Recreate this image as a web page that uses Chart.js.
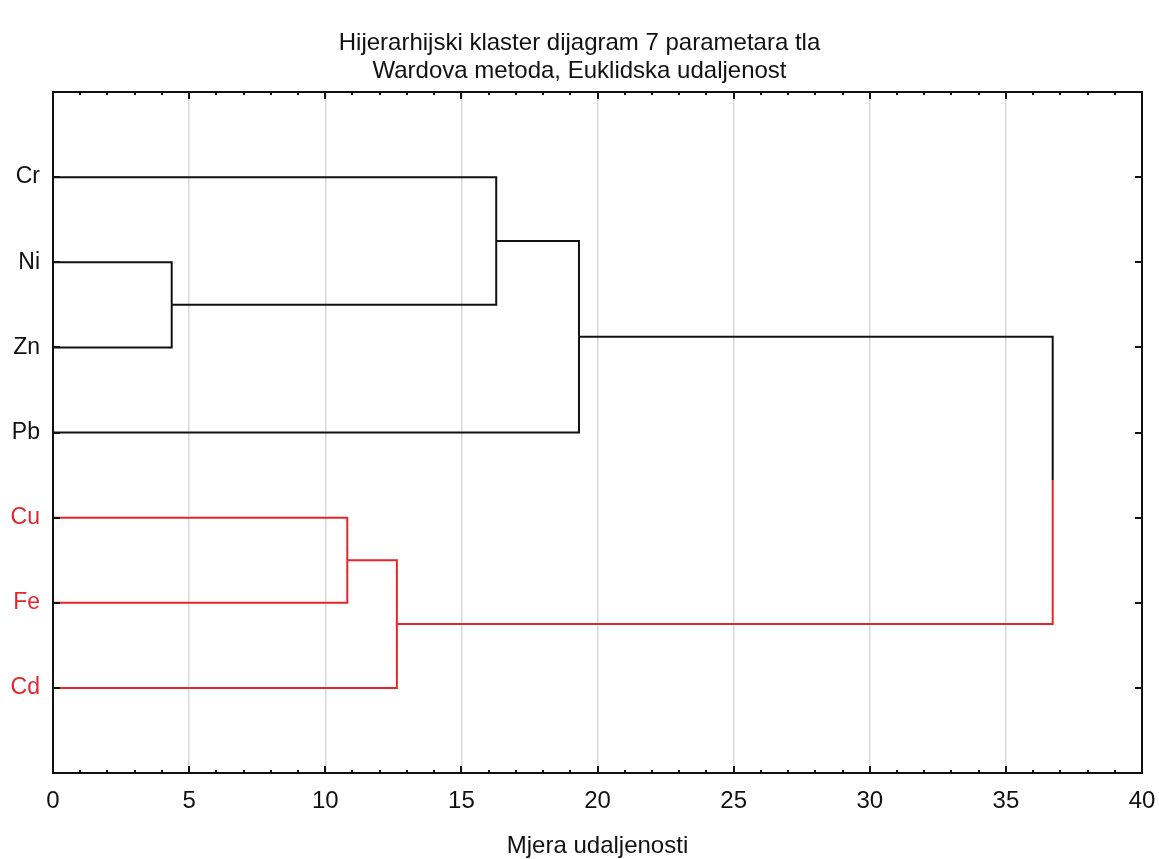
<!DOCTYPE html>
<html>
<head>
<meta charset="utf-8">
<title>Dendrogram</title>
<script src="https://cdn.jsdelivr.net/npm/chart.js@4"></script>
<style>
  html, body { margin: 0; padding: 0; background: #ffffff; }
  canvas { display: block; }
</style>
</head>
<body>
<canvas id="chart" width="1159" height="859"></canvas>
<script>
  'use strict';

  // leaves, top to bottom
  var leaves = ['Cr', 'Ni', 'Zn', 'Pb', 'Cu', 'Fe', 'Cd'];
  var leafColors = ['#000000', '#000000', '#000000', '#000000', '#e3262b', '#e3262b', '#e3262b'];

  // linkage: ids 0..6 are leaves, 7+ are the merged clusters in this order
  var mergeA = [1, 0, 8, 4, 10, 9];
  var mergeB = [2, 7, 3, 5, 6, 11];
  var mergeHeight = [4.36, 16.28, 19.32, 10.81, 12.63, 36.72];

  var xTicks = [0, 5, 10, 15, 20, 25, 30, 35, 40];

  var FONT = 'Arial, "Liberation Sans", sans-serif';
  var LINE = '#111111';

  // build the link segments from the linkage arrays
  function buildDatasets() {
    var pos = [], height = [], color = [];
    leaves.forEach(function (name, i) {
      pos.push(i + 1);
      height.push(0);
      color.push(leafColors[i]);
    });
    var sets = [];
    mergeHeight.forEach(function (h, k) {
      var a = mergeA[k], b = mergeB[k];
      var mid = (pos[a] + pos[b]) / 2;
      sets.push({
        data: [{ x: height[a], y: pos[a] }, { x: h, y: pos[a] }, { x: h, y: mid }],
        borderColor: color[a]
      });
      sets.push({
        data: [{ x: h, y: mid }, { x: h, y: pos[b] }, { x: height[b], y: pos[b] }],
        borderColor: color[b]
      });
      pos.push(mid);
      height.push(h);
      color.push(color[a] === color[b] ? color[a] : LINE);
    });
    return sets.map(function (s) {
      return {
        data: s.data,
        borderColor: s.borderColor === '#000000' ? LINE : s.borderColor,
        borderWidth: 2,
        showLine: true,
        pointRadius: 0,
        tension: 0,
        fill: false
      };
    });
  }

  // frame and inward tick marks like the original
  var framePlugin = {
    id: 'frame',
    afterDatasetsDraw: function (chart) {
      var ctx = chart.ctx, a = chart.chartArea;
      var xs = chart.scales.x, ys = chart.scales.y;
      ctx.save();
      ctx.strokeStyle = LINE;
      ctx.lineWidth = 2;
      ctx.beginPath();
      for (var v = 0; v <= 40; v++) {
        var px = Math.round(xs.getPixelForValue(v));
        var len = v % 5 === 0 ? 7 : 3;
        ctx.moveTo(px, a.bottom); ctx.lineTo(px, a.bottom - len);
        ctx.moveTo(px, a.top); ctx.lineTo(px, a.top + len);
      }
      leaves.forEach(function (n, i) {
        var py = Math.round(ys.getPixelForValue(i + 1));
        ctx.moveTo(a.right, py); ctx.lineTo(a.right - 7, py);
        ctx.moveTo(a.left, py); ctx.lineTo(a.left + 7, py);
      });
      ctx.stroke();
      ctx.strokeRect(a.left, a.top, a.right - a.left, a.bottom - a.top);
      ctx.restore();
    }
  };

  new Chart(document.getElementById('chart').getContext('2d'), {
    type: 'scatter',
    data: { datasets: buildDatasets() },
    options: {
      responsive: false,
      animation: false,
      devicePixelRatio: 1,
      layout: { padding: 0 },
      plugins: {
        legend: { display: false },
        tooltip: { enabled: false },
        title: {
          display: true,
          text: ['Hijerarhijski klaster dijagram 7 parametara tla', 'Wardova metoda, Euklidska udaljenost'],
          color: '#111111',
          font: { family: FONT, size: 24, weight: 'normal', lineHeight: '28px' },
          padding: { top: 29, bottom: 7 }
        }
      },
      scales: {
        x: {
          type: 'linear',
          min: 0,
          max: 40,
          afterBuildTicks: function (s) {
            s.ticks = xTicks.map(function (v) { return { value: v }; });
          },
          afterFit: function (s) {
            s.height = 86;
            s.paddingLeft = 0;
            s.paddingRight = 0;
          },
          ticks: {
            color: '#111111',
            font: { family: FONT, size: 24 },
            padding: 14,
            maxRotation: 0
          },
          grid: { color: '#d9d9d9', lineWidth: 1.5, drawTicks: false },
          border: { display: false },
          title: {
            display: true,
            text: 'Mjera udaljenosti',
            color: '#111111',
            font: { family: FONT, size: 24, lineHeight: '26px' },
            padding: { top: 0, bottom: 0 }
          }
        },
        y: {
          type: 'linear',
          min: 0,
          max: 8,
          reverse: true,
          afterBuildTicks: function (s) {
            s.ticks = leaves.map(function (n, i) { return { value: i + 1 }; });
          },
          afterFit: function (s) { s.width = 53; },
          ticks: {
            font: { family: FONT, size: 23 },
            padding: 13,
            color: function (c) { return leafColors[c.tick.value - 1] === '#000000' ? '#111111' : leafColors[c.tick.value - 1]; },
            callback: function (v) { return leaves[v - 1]; }
          },
          grid: { display: false, drawTicks: false },
          border: { display: false }
        },
        y2: {
          type: 'linear',
          position: 'right',
          min: 0,
          max: 8,
          reverse: true,
          afterFit: function (s) { s.width = 17; },
          ticks: { display: false },
          grid: { display: false, drawTicks: false },
          border: { display: false }
        }
      }
    },
    plugins: [framePlugin]
  });
</script>
</body>
</html>
